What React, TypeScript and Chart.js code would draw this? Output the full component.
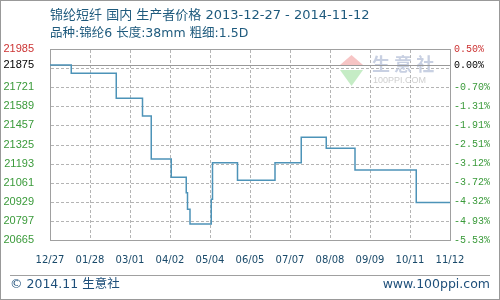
import React, { useEffect, useRef } from "react";
import { Chart, registerables } from "chart.js";

Chart.register(...registerables);

const titleText = "锦纶短纤 国内 生产者价格 2013-12-27 - 2014-11-12";
const subtitleText = "品种:锦纶6 长度:38mm 粗细:1.5D";
const footerLeft = "© 2014.11 生意社";
const footerRight = "www.100ppi.com";

// x axis: days since 2013-12-27, labelled every 32 days
const xTickDays = [0, 32, 64, 96, 128, 160, 192, 224, 256, 288, 320];
const xTickLabels = ["12/27", "01/28", "03/01", "04/02", "05/04", "06/05", "07/07", "08/08", "09/09", "10/11", "11/12"];

// y axis ticks
const yTickValues = [20665, 20797, 20929, 21061, 21193, 21325, 21457, 21589, 21721, 21853, 21875, 21985];
const basePrice = 21875;
const yMin = 20665;
const yMax = 21985;

// price changes (day index, price)
const changeDays = [0, 17, 53, 74, 81, 97, 109, 110, 112, 129, 130, 150, 180, 201, 221, 244, 293, 320];
const prices = [21875, 21817, 21644, 21522, 21225, 21098, 20992, 20877, 20776, 20946, 21199, 21078, 21199, 21375, 21299, 21149, 20925, 20925];

const RED = "#cc3333";
const GREEN = "#3a9a3a";
const BLACK = "#000000";
const GRID = "#b4b4b4";

function tickColor(v: number) {
  if (v === yMax) return RED;
  if (v === basePrice) return BLACK;
  return GREEN;
}

const decorPlugin = {
  id: "decor",
  beforeDatasetsDraw(chart: any) {
    const { ctx, chartArea } = chart;
    const y = chart.scales.y;
    const x = chart.scales.x;
    const left = Math.round(chartArea.left);
    const right = Math.round(chartArea.right);
    const top = Math.round(chartArea.top);
    const bottom = Math.round(chartArea.bottom);
    ctx.save();
    // dashed grid
    ctx.strokeStyle = GRID;
    ctx.lineWidth = 1;
    ctx.setLineDash([3, 2]);
    ctx.beginPath();
    for (let i = 0; i < yTickValues.length; i++) {
      const v = yTickValues[i];
      if (v === yMin || v === yMax || v === basePrice) continue;
      const py = Math.round(y.getPixelForValue(v)) + 0.5;
      ctx.moveTo(left + 1, py);
      ctx.lineTo(right, py);
    }
    for (let i = 0; i < xTickDays.length; i++) {
      const d = xTickDays[i];
      if (d === 0 || d === 320) continue;
      const px = Math.round(x.getPixelForValue(d)) + 0.5;
      ctx.moveTo(px, top + 1);
      ctx.lineTo(px, bottom);
    }
    ctx.stroke();
    ctx.setLineDash([]);
    // watermark logo
    ctx.fillStyle = "rgba(240,150,150,0.55)";
    ctx.beginPath();
    ctx.moveTo(351.5, 55);
    ctx.lineTo(363, 65);
    ctx.lineTo(340, 65);
    ctx.closePath();
    ctx.fill();
    ctx.fillStyle = "rgba(150,220,150,0.55)";
    ctx.beginPath();
    ctx.moveTo(340, 70);
    ctx.lineTo(363, 70);
    ctx.lineTo(351.5, 86);
    ctx.closePath();
    ctx.fill();
    ctx.fillStyle = "#c8d0e2";
    ctx.font = "bold 18px 'Noto Sans CJK SC'";
    ctx.textBaseline = "middle";
    ctx.textAlign = "left";
    ctx.fillText("生 意 社", 372, 64);
    ctx.fillStyle = "#cfcfcf";
    ctx.font = "9px 'Liberation Sans'";
    ctx.fillText("100PPI.COM", 373, 81);
    // base line
    const by = Math.round(y.getPixelForValue(basePrice));
    ctx.fillStyle = "#999999";
    ctx.fillRect(left, by, right - left, 1);
    // plot frame
    ctx.fillStyle = "#a0a0a0";
    ctx.fillRect(left, top, right - left + 1, 1);
    ctx.fillRect(left, bottom, right - left + 1, 1);
    ctx.fillRect(left, top, 1, bottom - top + 1);
    ctx.fillRect(right, top, 1, bottom - top + 1);
    ctx.restore();
  },
  afterDraw(chart: any) {
    const { ctx, width, height } = chart;
    ctx.save();
    ctx.textBaseline = "middle";
    ctx.textAlign = "left";
    ctx.fillStyle = "#1e5a7d";
    ctx.font = "13px 'DejaVu Sans', 'Noto Sans CJK SC'";
    ctx.fillText(titleText, 50, 16);
    ctx.font = "12.5px 'DejaVu Sans', 'Noto Sans CJK SC'";
    ctx.fillText(subtitleText, 50, 34);
    // footer
    ctx.fillStyle = "#a0a0a0";
    ctx.fillRect(10, 275, 480, 1);
    ctx.fillStyle = "#1e4f7a";
    ctx.font = "12.5px 'DejaVu Sans', 'Noto Sans CJK SC'";
    ctx.fillText(footerLeft, 10, 285);
    ctx.textAlign = "right";
    ctx.fillText(footerRight, 490, 285);
    // outer frame
    ctx.strokeStyle = "#999999";
    ctx.lineWidth = 1;
    ctx.strokeRect(0.5, 0.5, width - 1, height - 1);
    ctx.restore();
  },
};

export default function App() {
  const ref = useRef<HTMLCanvasElement>(null);
  useEffect(() => {
    if (!ref.current) return;
    const data = changeDays.map((d, i) => ({ x: d, y: prices[i] }));
    const chart = new Chart(ref.current, {
      type: "line",
      data: {
        datasets: [
          {
            data,
            stepped: true,
            borderColor: "#4d93b8",
            borderWidth: 1.5,
            pointRadius: 0,
            fill: false,
            yAxisID: "y",
          },
        ],
      },
      options: {
        animation: false,
        responsive: false,
        maintainAspectRatio: false,
        layout: { padding: { top: 49, left: 0, right: 0, bottom: 0 } },
        plugins: { legend: { display: false }, tooltip: { enabled: false }, title: { display: false } },
        scales: {
          x: {
            type: "linear",
            min: 0,
            max: 320,
            afterBuildTicks: (s: any) => {
              s.ticks = xTickDays.map((v) => ({ value: v }));
            },
            afterFit: (s: any) => {
              s.height = 60;
            },
            ticks: {
              autoSkip: false,
              maxRotation: 0,
              minRotation: 0,
              padding: 14,
              color: "#1a4a6a",
              font: { family: "'DejaVu Sans'", size: 10 },
              callback: (v: any) => {
                const i = xTickDays.indexOf(Number(v));
                return i >= 0 ? xTickLabels[i] : "";
              },
            },
            grid: { display: false, drawTicks: false },
            border: { display: false },
          },
          y: {
            type: "linear",
            position: "left",
            min: yMin,
            max: yMax,
            afterBuildTicks: (s: any) => {
              s.ticks = yTickValues.map((v) => ({ value: v }));
            },
            afterFit: (s: any) => {
              s.width = 50;
            },
            ticks: {
              padding: 16,
              autoSkip: false,
              color: (c: any) => tickColor(c.tick.value),
              font: { family: "'Liberation Sans'", size: 11 },
              callback: (v: any) => (Number(v) === 21853 ? "" : String(v)),
            },
            grid: { display: false, drawTicks: false },
            border: { display: false },
          },
          y2: {
            type: "linear",
            position: "right",
            min: yMin,
            max: yMax,
            afterBuildTicks: (s: any) => {
              s.ticks = yTickValues.map((v) => ({ value: v }));
            },
            afterFit: (s: any) => {
              s.width = 50;
            },
            ticks: {
              padding: 4,
              autoSkip: false,
              color: (c: any) => tickColor(c.tick.value),
              font: { family: "'Liberation Mono'", size: 10 },
              callback: (v: any) => {
                const n = Number(v);
                if (n === 21853) return "";
                return (((n - basePrice) / basePrice) * 100).toFixed(2) + "%";
              },
            },
            grid: { display: false, drawTicks: false },
            border: { display: false },
          },
        },
      },
      plugins: [decorPlugin],
    });
    return () => chart.destroy();
  }, []);
  return (
    <div style={{ position: "absolute", left: 0, top: 0, width: 500, height: 300, background: "#fff" }}>
      <canvas ref={ref} width={500} height={300} style={{ width: 500, height: 300, display: "block" }} />
    </div>
  );
}
